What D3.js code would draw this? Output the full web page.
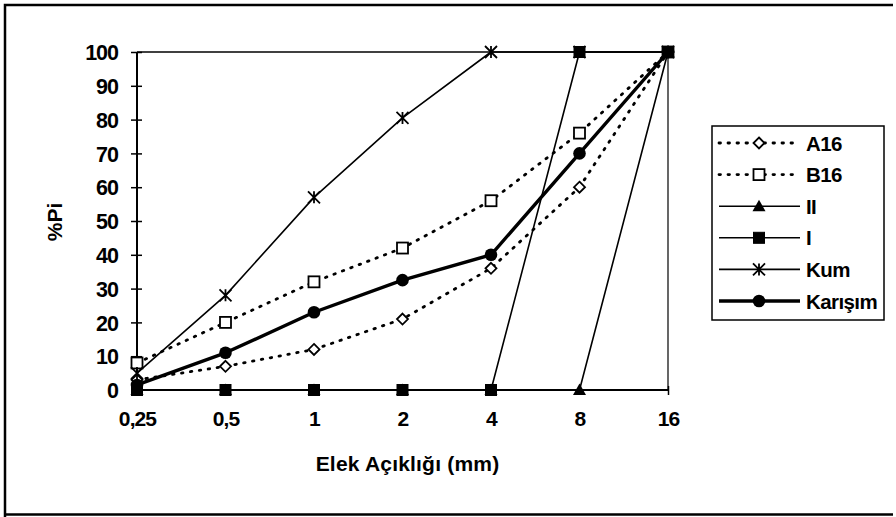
<!DOCTYPE html>
<html><head><meta charset="utf-8">
<script src="https://cdn.jsdelivr.net/npm/d3@7"></script>
<style>
html,body{margin:0;padding:0;background:#fff;}
svg{display:block;font-family:"Liberation Sans",Arial,sans-serif;}
</style></head>
<body>
<svg id="chart" width="896" height="517"></svg>
<script>
const categories = ["0,25","0,5","1","2","4","8","16"];
const yTicks = [0,10,20,30,40,50,60,70,80,90,100];
const seriesNames = ["A16","B16","II","I","Kum","Karışım"];
const A16 = [3, 7, 12, 21, 36, 60, 100];
const B16 = [8, 20, 32, 42, 56, 76, 100];
const II = [0, 0, 0, 0, 0, 0, 100];
const I = [0, 0, 0, 0, 0, 100, 100];
const Kum = [5, 28, 57, 80.5, 100, 100, 100];
const Karisim = [1.5, 11, 23, 32.5, 40, 70, 100];

const series = [
  {name:seriesNames[0], values:A16, dash:"1.5,7.5", width:2.8, marker:"diamond", fill:"#fff"},
  {name:seriesNames[1], values:B16, dash:"1.5,7.5", width:2.8, marker:"square", fill:"#fff"},
  {name:seriesNames[2], values:II, dash:null, width:1.6, marker:"triangle", fill:"#000"},
  {name:seriesNames[3], values:I, dash:null, width:1.6, marker:"square", fill:"#000"},
  {name:seriesNames[4], values:Kum, dash:null, width:1.6, marker:"asterisk", fill:"none"},
  {name:seriesNames[5], values:Karisim, dash:null, width:3.4, marker:"circle", fill:"#000"}
];

const FONT = "'Liberation Sans',Arial,sans-serif";
const svg = d3.select("#chart");
// outer border
svg.append("path").attr("d","M5,517 V5 H893").attr("fill","none").attr("stroke","#000").attr("stroke-width",2.5);
svg.append("line").attr("x1",5).attr("x2",893).attr("y1",514.5).attr("y2",514.5).attr("stroke","#000").attr("stroke-width",2.5);

const L = 137, R = 668, T = 52, B = 390;
const x = d3.scalePoint().domain(categories).range([L, R]);
const y = d3.scaleLinear().domain([0,100]).range([B, T]);

// plot border top/right
svg.append("line").attr("x1",L).attr("x2",R).attr("y1",T).attr("y2",T).attr("stroke","#000").attr("stroke-width",1.5);
svg.append("line").attr("x1",R).attr("x2",R).attr("y1",T).attr("y2",B).attr("stroke","#000").attr("stroke-width",1.2);

// y axis
const yAxis = d3.axisLeft(y).tickValues(yTicks).tickSize(5).tickPadding(14);
const gy = svg.append("g").attr("transform",`translate(${L},0)`).call(yAxis);
gy.select(".domain").attr("stroke-width",2).attr("d",`M0,${B}V${T}`);
gy.selectAll(".tick line").attr("x1",-6).attr("x2",5).attr("stroke-width",1.5);
gy.selectAll(".tick text").attr("font-size",21.5).attr("font-weight","bold").attr("fill","#000")
  .attr("font-family",FONT).attr("letter-spacing","-1").attr("dy","0.36em");

// x axis
const xAxis = d3.axisBottom(x).tickSize(5).tickPadding(20);
const gx = svg.append("g").attr("transform",`translate(0,${B})`).call(xAxis);
gx.select(".domain").attr("stroke-width",2).attr("d",`M${L},0H${R}`);
gx.selectAll(".tick line").attr("y1",-4).attr("y2",5).attr("stroke-width",1.5);
gx.selectAll(".tick text").attr("font-size",21).attr("font-weight","bold").attr("fill","#000")
  .attr("font-family",FONT).attr("letter-spacing","-0.9").attr("dy","0").attr("y",36);

// axis titles
svg.append("text").attr("x",(L+R)/2+5).attr("y",471).attr("text-anchor","middle")
  .attr("font-size",21).attr("font-weight","bold").attr("letter-spacing","0.2").text("Elek Açıklığı (mm)");
svg.append("text").attr("transform","translate(62,222) rotate(-90)").attr("text-anchor","middle")
  .attr("font-size",21).attr("font-weight","bold").text("%Pi");

function drawMarker(g, type, cx, cy, fill) {
  if (type==="diamond") {
    const r=5.5;
    g.append("path").attr("d",`M${cx},${cy-r}L${cx+r},${cy}L${cx},${cy+r}L${cx-r},${cy}Z`)
     .attr("fill",fill).attr("stroke","#000").attr("stroke-width",1.8);
  } else if (type==="square") {
    const r = 5.5;
    g.append("rect").attr("x",cx-r).attr("y",cy-r).attr("width",2*r).attr("height",2*r)
     .attr("fill",fill).attr("stroke","#000").attr("stroke-width",fill==="#fff"?1.8:1);
  } else if (type==="triangle") {
    g.append("path").attr("d",`M${cx},${cy-6.5}L${cx+6.5},${cy+5}L${cx-6.5},${cy+5}Z`).attr("fill","#000");
  } else if (type==="circle") {
    g.append("circle").attr("cx",cx).attr("cy",cy).attr("r",6.3).attr("fill","#000");
  } else if (type==="asterisk") {
    const r=6;
    g.append("path").attr("d",`M${cx-r},${cy-r}L${cx+r},${cy+r}M${cx-r},${cy+r}L${cx+r},${cy-r}M${cx},${cy-r}V${cy+r}`)
     .attr("stroke","#000").attr("stroke-width",1.8).attr("fill","none");
  }
}

const line = d3.line().x((d,i)=>x(categories[i])).y(d=>y(d));
series.forEach(s=>{
  const g = svg.append("g");
  const p = g.append("path").attr("d",line(s.values)).attr("fill","none").attr("stroke","#000")
    .attr("stroke-width",s.width).attr("stroke-linejoin","round");
  if (s.dash) p.attr("stroke-dasharray",s.dash).attr("stroke-linecap","round");
  s.values.forEach((v,i)=>drawMarker(g, s.marker, x(categories[i]), y(v), s.fill));
});

// legend
const lg = svg.append("g");
lg.append("rect").attr("x",712).attr("y",126).attr("width",172).attr("height",194)
  .attr("fill","#fff").attr("stroke","#000").attr("stroke-width",1.5);
series.forEach((s,i)=>{
  const cy = 143 + i*31.6;
  const l = lg.append("line").attr("x1",719).attr("x2",800).attr("y1",cy).attr("y2",cy)
    .attr("stroke","#000").attr("stroke-width",s.width);
  if (s.dash) l.attr("stroke-dasharray",s.dash).attr("stroke-linecap","round");
  drawMarker(lg, s.marker, 759, cy, s.fill);
  lg.append("text").attr("x",806).attr("y",cy+7.5).attr("font-size",20.5).attr("font-weight","bold")
    .attr("letter-spacing","-0.6").text(s.name);
});
</script>
</body></html>
